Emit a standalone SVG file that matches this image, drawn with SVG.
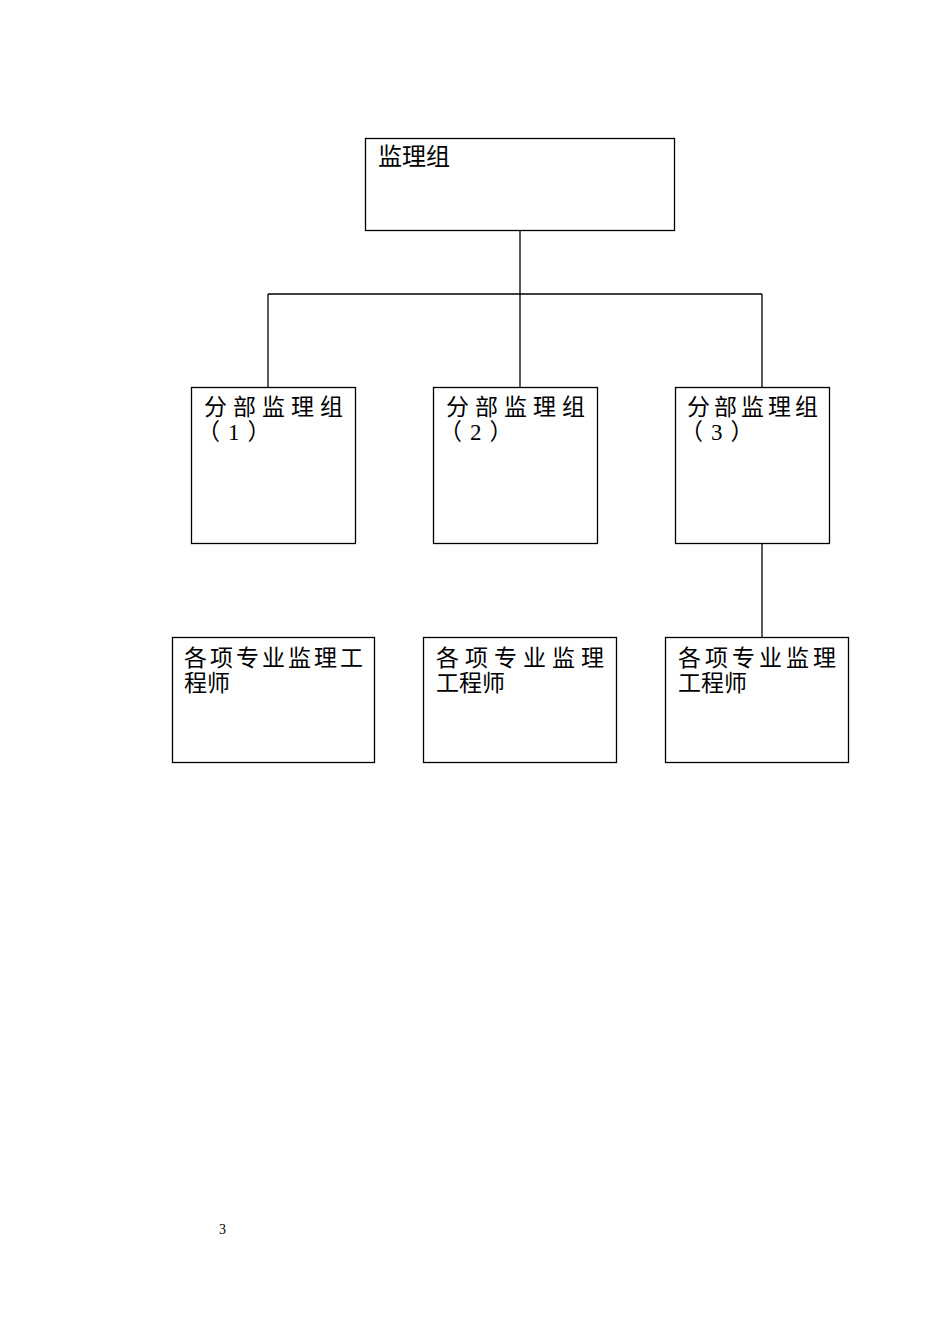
<svg xmlns="http://www.w3.org/2000/svg" width="950" height="1344" viewBox="0 0 950 1344">
<style>
.box{fill:#fff;stroke:#000;stroke-width:1.3}
.t{font-family:"Liberation Serif","Noto Sans CJK SC",serif;font-size:23px;fill:#000}
.c{stroke:#000;stroke-width:1.3;fill:none}
</style>
<rect width="950" height="1344" fill="#fff"/>
<g id="connectors">
<line class="c" x1="520" y1="231" x2="520" y2="387"/>
<line class="c" x1="268" y1="294" x2="762" y2="294"/>
<line class="c" x1="268" y1="294" x2="268" y2="387"/>
<line class="c" x1="762" y1="294" x2="762" y2="387"/>
<line class="c" x1="762" y1="544" x2="762" y2="637"/>
</g>
<g id="top">
<rect class="box" x="365.5" y="138.5" width="309" height="92"/>
<text class="t" x="378" y="165" style="font-size:24px">监理组</text>
</g>
<g id="mid1">
<rect class="box" x="191.5" y="387.5" width="164" height="156"/>
<text class="t" x="204" y="415" letter-spacing="6">分部监理组</text>
<text class="t" x="197" y="440" letter-spacing="8">（1）</text>
</g>
<g id="mid2">
<rect class="box" x="433.5" y="387.5" width="164" height="156"/>
<text class="t" x="446" y="415" letter-spacing="6">分部监理组</text>
<text class="t" x="439" y="440" letter-spacing="8">（2）</text>
</g>
<g id="mid3">
<rect class="box" x="675.5" y="387.5" width="154" height="156"/>
<text class="t" x="687" y="415" letter-spacing="4">分部监理组</text>
<text class="t" x="680" y="440" letter-spacing="8">（3）</text>
</g>
<g id="bot1">
<rect class="box" x="172.5" y="637.5" width="202" height="125"/>
<text class="t" x="184" y="666" letter-spacing="3">各项专业监理工</text>
<text class="t" x="184" y="691">程师</text>
</g>
<g id="bot2">
<rect class="box" x="423.5" y="637.5" width="193" height="125"/>
<text class="t" x="436" y="666" letter-spacing="6">各项专业监理</text>
<text class="t" x="436" y="691">工程师</text>
</g>
<g id="bot3">
<rect class="box" x="665.5" y="637.5" width="183" height="125"/>
<text class="t" x="678" y="666" letter-spacing="4">各项专业监理</text>
<text class="t" x="678" y="691">工程师</text>
</g>
<text x="219" y="1234" style="font-family:'Liberation Serif',serif;font-size:14px">3</text>
</svg>
